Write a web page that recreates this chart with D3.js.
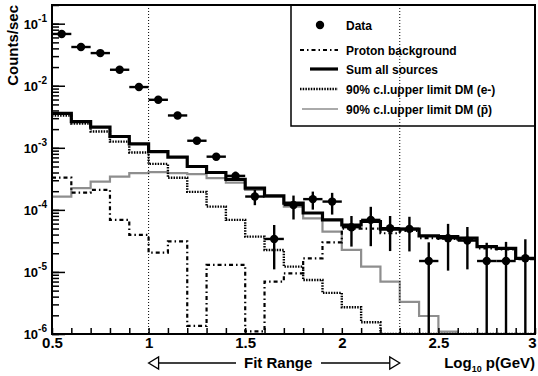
<!DOCTYPE html>
<html>
<head>
<meta charset="utf-8">
<script src="https://cdnjs.cloudflare.com/ajax/libs/d3/7.8.5/d3.min.js"></script>
<style>
body { margin: 0; background: #fff; }
svg text { font-family: "Liberation Sans", Arial, Helvetica, sans-serif; font-weight: bold; fill: #000; }
</style>
</head>
<body>
<svg id="chart" width="538" height="376"></svg>
<script>
// bins in Log10 p(GeV)
var binLow = [0.5, 0.6, 0.7, 0.8, 0.9, 1.0, 1.1, 1.2, 1.3, 1.4, 1.5, 1.6, 1.7, 1.8, 1.9,
              2.0, 2.1, 2.2, 2.3, 2.4, 2.5, 2.6, 2.7, 2.8, 2.9];
var binCenter = [0.55, 0.65, 0.75, 0.85, 0.95, 1.05, 1.15, 1.25, 1.35, 1.45, 1.55, 1.65, 1.75,
                 1.85, 1.95, 2.05, 2.15, 2.25, 2.35, 2.45, 2.55, 2.65, 2.75, 2.85, 2.95];
var halfBin = 0.05;

// measured counts/sec and errors
var dataRate = [0.0683, 0.0421, 0.0336, 0.0181, 0.00953, 0.00594, 0.00332, 0.0013, 7.2e-4, 3.53e-4,
                1.64e-4, 3.4e-5, 1.2e-4, 1.49e-4, 1.36e-4, 5.26e-5, 6.9e-5, 5.07e-5, 4.94e-5, 1.5e-5,
                3.5e-5, 3.2e-5, 1.5e-5, 1.5e-5, 1.66e-5];
var dataErr = [0.002, 0.0015, 0.0013, 0.0009, 0.0006, 0.0004, 0.0003, 0.00015, 0.0001, 6e-5,
               4.5e-5, 2.3e-5, 5e-5, 4.8e-5, 5.2e-5, 2.7e-5, 4.3e-5, 2.9e-5, 2.8e-5, 1.5e-5,
               2.45e-5, 2.1e-5, 1.45e-5, 1.55e-5, 1.7e-5];

// model histograms
var protonBg = [3.3e-4, 1.9e-4, 2.1e-4, 6.9e-5, 3.95e-5, 2.05e-5, 3.1e-5, 1.35e-6, 1.3e-5, 1.3e-5,
                1.1e-6, 7.0e-6, 9.5e-6, 1.66e-5, 3.0e-5, 5.0e-5, 5.0e-5, 4.2e-5, 4.6e-5, 3.5e-5,
                3.4e-5, 3.3e-5, 2.4e-5, 2.3e-5, 1.6e-5];
var sumAll = [3.6e-3, 2.65e-3, 2.16e-3, 1.52e-3, 1.16e-3, 8.7e-4, 7.1e-4, 5.0e-4, 4.0e-4, 3.1e-4,
              2.24e-4, 1.68e-4, 1.28e-4, 8.9e-5, 6.9e-5, 5.7e-5, 6.5e-5, 4.9e-5, 4.9e-5, 3.8e-5,
              3.7e-5, 3.5e-5, 2.56e-5, 2.4e-5, 1.66e-5];
var dmElectron = [3.3e-3, 2.45e-3, 1.83e-3, 1.26e-3, 8.4e-4, 5.5e-4, 3.3e-4, 1.95e-4, 1.13e-4, 6.9e-5,
                  3.7e-5, 2.26e-5, 1.22e-5, 7.4e-6, 4.6e-6, 2.7e-6, 1.55e-6, 9e-7, 9e-7, 9e-7,
                  9e-7, 9e-7, 9e-7, 9e-7, 9e-7];
var dmAntiproton = [1.64e-4, 2.24e-4, 2.86e-4, 3.44e-4, 3.9e-4, 4.06e-4, 3.9e-4, 3.77e-4, 3.24e-4, 2.75e-4,
                    2.1e-4, 1.64e-4, 1.13e-4, 7.3e-5, 4.47e-5, 2.26e-5, 1.22e-5, 7.0e-6, 3.3e-6, 1.95e-6,
                    1.09e-6, 9e-7, 9e-7, 9e-7, 9e-7];

var xTicks = [0.5, 0.6, 0.7, 0.8, 0.9, 1.0, 1.1, 1.2, 1.3, 1.4, 1.5, 1.6, 1.7, 1.8, 1.9,
              2.0, 2.1, 2.2, 2.3, 2.4, 2.5, 2.6, 2.7, 2.8, 2.9, 3.0];
var xLabels = [0.5, 1, 1.5, 2, 2.5, 3];
var yDecades = [1e-6, 1e-5, 1e-4, 1e-3, 1e-2, 1e-1];
var fitRange = [1.0, 2.3];
var legendLabels = ["Data", "Proton background", "Sum all sources",
                    "90% c.l.upper limit DM (e-)", "90% c.l.upper limit DM (p\u0304)"];

var margin = {top: 5, right: 3, bottom: 42, left: 52};
var width = 538 - margin.left - margin.right,
    height = 376 - margin.top - margin.bottom;

var svg = d3.select("#chart");
var g = svg.append("g")
    .attr("transform", "translate(" + margin.left + "," + margin.top + ")");

var x = d3.scaleLinear().domain([0.5, 3]).range([0, width]);
var y = d3.scaleLog().domain([1e-6, 0.2]).range([height, 0]);
var yMin = y.domain()[0];
function yc(v) { return y(Math.max(v, yMin)); }

g.append("clipPath").attr("id", "plotclip")
  .append("rect").attr("x", 0).attr("y", 0).attr("width", width).attr("height", height);

var plot = g.append("g").attr("clip-path", "url(#plotclip)");

// histograms as step lines
var stepLine = d3.line()
    .x(function(d) { return x(d[0]); })
    .y(function(d) { return yc(d[1]); })
    .curve(d3.curveStepAfter);

function stepPoints(vals) {
    var pts = binLow.map(function(b, i) { return [b, vals[i]]; });
    pts.push([x.domain()[1], vals[vals.length - 1]]);
    return pts;
}

var styles = {
    pbar:   {stroke: "#8e8e8e", width: 2.2, dash: null},
    proton: {stroke: "#000", width: 2.2, dash: "4,3,1.5,3"},
    elec:   {stroke: "#000", width: 2.4, dash: "1.5,1.2"},
    sum:    {stroke: "#000", width: 3.2, dash: null}
};

function drawHist(vals, st) {
    plot.append("path")
        .datum(stepPoints(vals))
        .attr("fill", "none")
        .attr("stroke", st.stroke)
        .attr("stroke-width", st.width)
        .attr("stroke-dasharray", st.dash)
        .attr("d", stepLine);
}

drawHist(dmAntiproton, styles.pbar);
drawHist(protonBg, styles.proton);
drawHist(dmElectron, styles.elec);
drawHist(sumAll, styles.sum);

// data points
var pts = plot.append("g").selectAll("g")
    .data(binCenter.map(function(c, i) { return {c: c, v: dataRate[i], e: dataErr[i]}; }))
    .join("g");

pts.append("line")
    .attr("x1", function(d) { return x(d.c - halfBin); })
    .attr("x2", function(d) { return x(d.c + halfBin); })
    .attr("y1", function(d) { return yc(d.v); })
    .attr("y2", function(d) { return yc(d.v); })
    .attr("stroke", "#000").attr("stroke-width", 2.4);

pts.append("line")
    .attr("x1", function(d) { return x(d.c); })
    .attr("x2", function(d) { return x(d.c); })
    .attr("y1", function(d) { return d.v - d.e > 0 ? yc(d.v - d.e) : height + 2; })
    .attr("y2", function(d) { return yc(d.v + d.e); })
    .attr("stroke", "#000").attr("stroke-width", 2.4);

pts.append("circle")
    .attr("cx", function(d) { return x(d.c); })
    .attr("cy", function(d) { return yc(d.v); })
    .attr("r", 4.2)
    .attr("fill", "#000");

// axes
var xAxis = g.append("g")
    .attr("transform", "translate(0," + height + ")")
    .call(d3.axisBottom(x)
        .tickValues(xTicks)
        .tickSizeInner(-6)
        .tickSizeOuter(0)
        .tickPadding(3)
        .tickFormat(function(d) {
            var hit = xLabels.find(function(l) { return Math.abs(l - d) < 1e-9; });
            return hit === undefined ? "" : String(hit);
        }));
xAxis.selectAll("text").style("font-size", "15px");
// keep the last label inside the picture
xAxis.selectAll("text").filter(function(d) { return d === x.domain()[1]; }).attr("dx", -3);
xAxis.selectAll("line").attr("stroke-width", 1.5);
xAxis.select(".domain").remove();

var yMinor = g.append("g")
    .call(d3.axisLeft(y)
        .tickValues(y.ticks())
        .tickSizeInner(-7)
        .tickSizeOuter(0)
        .tickFormat(""));
yMinor.selectAll("line").attr("stroke-width", 1.5);
yMinor.select(".domain").remove();

var yMajor = g.append("g")
    .call(d3.axisLeft(y)
        .tickValues(yDecades)
        .tickSizeInner(-13)
        .tickSizeOuter(0)
        .tickFormat(""));
yMajor.selectAll("line").attr("stroke-width", 1.5);
yMajor.select(".domain").remove();

var yLab = g.append("g").selectAll("text")
    .data(yDecades)
    .join("text")
    .attr("x", -5)
    .attr("y", function(d) { return y(d) + 5; })
    .attr("text-anchor", "end")
    .style("font-size", "13px");
yLab.append("tspan").text("10");
yLab.append("tspan")
    .attr("dy", -7)
    .style("font-size", "10px")
    .text(function(d) { return String(Math.round(Math.log10(d))); });

// frame
g.append("rect")
    .attr("x", 0).attr("y", 0)
    .attr("width", width).attr("height", height)
    .attr("fill", "none")
    .attr("stroke", "#000")
    .attr("stroke-width", 2);

// legend
var leg = svg.append("g");
leg.append("rect")
    .attr("x", 291).attr("y", margin.top)
    .attr("width", 538 - margin.right - 291).attr("height", 121)
    .attr("fill", "none").attr("stroke", "#000").attr("stroke-width", 1.5);

var legY = [25, 50, 69, 89, 109];
leg.append("circle").attr("cx", 320).attr("cy", legY[0]).attr("r", 4.2).attr("fill", "#000");
var legLines = [null, styles.proton, styles.sum, styles.elec, styles.pbar];
var legX0 = [0, 300, 310, 300, 302];
legLines.forEach(function(st, i) {
    if (!st) return;
    leg.append("line")
        .attr("x1", legX0[i]).attr("x2", 338)
        .attr("y1", legY[i]).attr("y2", legY[i])
        .attr("stroke", st.stroke)
        .attr("stroke-width", i === 4 ? 1.6 : st.width)
        .attr("stroke-dasharray", st.dash);
});
leg.selectAll("text.leg")
    .data(legendLabels)
    .join("text")
    .attr("class", "leg")
    .attr("x", 346)
    .attr("y", function(d, i) { return legY[i] + 4.5; })
    .style("font-size", "12px")
    .text(function(d) { return d; });

// fit range markers
g.selectAll("line.fit")
    .data(fitRange)
    .join("line")
    .attr("class", "fit")
    .attr("x1", function(d) { return x(d); })
    .attr("x2", function(d) { return x(d); })
    .attr("y1", 0).attr("y2", height)
    .attr("stroke", "#000")
    .attr("stroke-width", 1)
    .attr("stroke-dasharray", "1,2");

// axis titles
svg.append("text")
    .attr("transform", "translate(18,5) rotate(-90)")
    .attr("text-anchor", "end")
    .style("font-size", "15px")
    .text("Counts/sec");

var xt = svg.append("text")
    .attr("x", 535)
    .attr("y", 368)
    .attr("text-anchor", "end")
    .style("font-size", "15px");
xt.append("tspan").text("Log");
xt.append("tspan").attr("dy", 4).style("font-size", "9px").text("10");
xt.append("tspan").attr("dy", -4).text(" p(GeV)");

// Fit Range arrow
var fy = 363, ax0 = margin.left + x(fitRange[0]), ax1 = margin.left + x(fitRange[1]);
var fitG = svg.append("g");
fitG.append("text")
    .attr("x", (ax0 + ax1) / 2 + 4)
    .attr("y", 368)
    .attr("text-anchor", "middle")
    .style("font-size", "15px")
    .text("Fit Range");
fitG.append("line").attr("x1", ax0 + 9).attr("x2", 236).attr("y1", fy).attr("y2", fy)
    .attr("stroke", "#000").attr("stroke-width", 1.3);
fitG.append("line").attr("x1", 321).attr("x2", ax1 - 9).attr("y1", fy).attr("y2", fy)
    .attr("stroke", "#000").attr("stroke-width", 1.3);
fitG.append("path")
    .attr("d", "M" + ax0 + "," + fy + "L" + (ax0 + 10) + "," + (fy - 6) + "L" + (ax0 + 10) + "," + (fy + 6) + "Z")
    .attr("fill", "#fff").attr("stroke", "#000").attr("stroke-width", 1.3);
fitG.append("path")
    .attr("d", "M" + ax1 + "," + fy + "L" + (ax1 - 10) + "," + (fy - 6) + "L" + (ax1 - 10) + "," + (fy + 6) + "Z")
    .attr("fill", "#fff").attr("stroke", "#000").attr("stroke-width", 1.3);
</script>
</body>
</html>
